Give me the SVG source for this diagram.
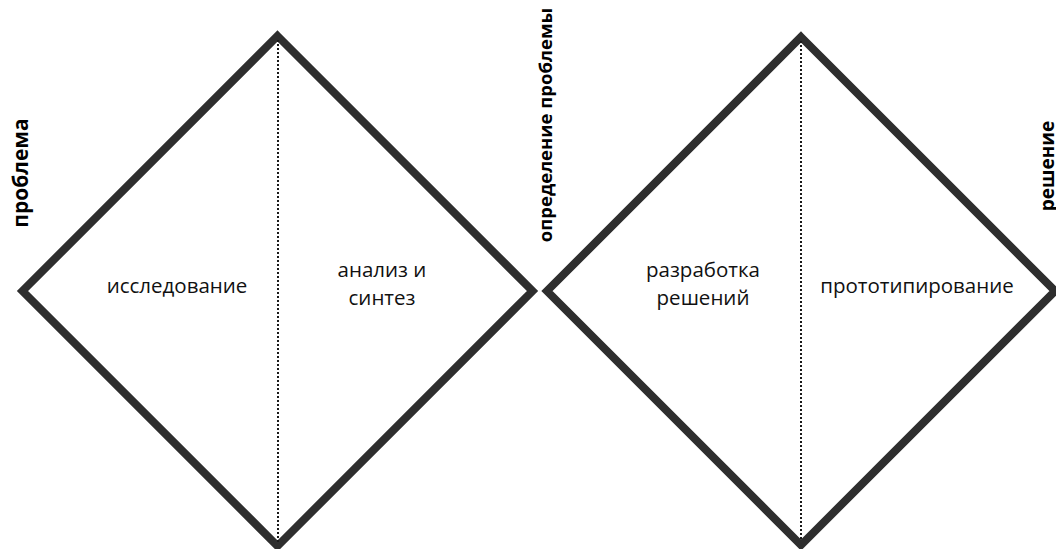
<svg xmlns="http://www.w3.org/2000/svg" width="1056" height="549" viewBox="0 0 1056 549">
<style>
.d{fill:none;stroke:#2e2e2e;stroke-width:8;stroke-linejoin:miter}
.dot{stroke:#1a1a1a;stroke-width:2;stroke-dasharray:2 2}
.t{font-family:"Open Sans","Noto Sans",sans-serif;font-size:20.5px;fill:#111;text-anchor:middle}
.v{font-family:"Open Sans","Noto Sans",sans-serif;font-weight:bold;fill:#000;text-anchor:middle}
</style>
<rect width="1056" height="549" fill="#fff"/>
<g id="diamond-left">
<polygon class="d" points="277.5,36 532.5,291 277.5,546 22.5,291"/>
</g>
<g id="diamond-right">
<polygon class="d" points="801,37 1055,291 801,545 547,291"/>
</g>
<g id="connectors">
<line class="dot" x1="278" y1="40" x2="278" y2="542"/>
<line class="dot" x1="801" y1="41" x2="801" y2="541"/>
</g>
<g id="label-issledovanie"><text class="t" x="177" y="293">исследование</text></g>
<g id="label-analiz"><text class="t" x="382" y="277">анализ и</text><text class="t" x="382" y="305">синтез</text></g>
<g id="label-razrabotka"><text class="t" x="703" y="277">разработка</text><text class="t" x="703" y="305">решений</text></g>
<g id="label-prototip"><text class="t" x="917" y="293">прототипирование</text></g>
<g id="label-problema"><text class="v" font-size="21" transform="translate(28,173) rotate(-90)">проблема</text></g>
<g id="label-opredelenie"><text class="v" font-size="18.5" transform="translate(552,125) rotate(-90)">определение проблемы</text></g>
<g id="label-reshenie"><text class="v" font-size="19" transform="translate(1054,166) rotate(-90)">решение</text></g>
</svg>
